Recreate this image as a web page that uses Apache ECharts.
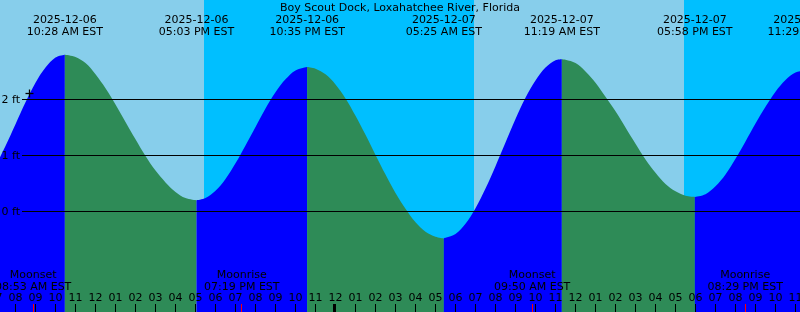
<!DOCTYPE html>
<html><head><meta charset="utf-8">
<script src="https://cdn.jsdelivr.net/npm/echarts@6/dist/echarts.min.js"></script>
<style>html,body{margin:0;padding:0;background:#00BFFF}#c{width:800px;height:312px}</style>
</head><body><div id="c"></div>
<script>
const chartTitle = 'Boy Scout Dock, Loxahatchee River, Florida';
// time in hours since 2025-12-06 00:00 EST, height in ft
const tideTimes = [7.0,7.5,8.0,8.5,9.0,9.5,10.0,10.467,11.0,11.5,12.0,12.5,13.0,13.5,14.0,14.5,15.0,15.5,16.0,16.5,17.05,
  17.5,18.0,18.5,19.0,19.5,20.0,20.5,21.0,21.5,22.0,22.583,23.0,23.5,24.0,24.5,25.0,25.5,26.0,26.5,27.0,27.5,28.0,28.5,29.0,29.417,
  29.5,30.0,30.5,31.0,31.5,32.0,32.5,33.0,33.5,34.0,34.5,35.0,35.317,35.5,36.0,36.5,37.0,37.5,38.0,38.5,39.0,39.5,40.0,40.5,41.0,41.5,41.967,
  42.5,43.0,43.5,44.0,44.5,45.0,45.5,46.0,46.5,47.0,47.483];
const tideHeights = [0.81,1.17,1.56,1.95,2.30,2.57,2.75,2.80,2.76,2.65,2.45,2.20,1.91,1.60,1.29,0.99,0.73,0.52,0.35,0.24,0.20,
  0.24,0.37,0.58,0.86,1.18,1.51,1.84,2.13,2.36,2.52,2.58,2.55,2.45,2.27,2.02,1.71,1.37,1.01,0.66,0.33,0.05,-0.19,-0.36,-0.45,-0.48,
  -0.47,-0.40,-0.22,0.06,0.41,0.81,1.23,1.65,2.03,2.34,2.57,2.70,2.72,2.71,2.65,2.50,2.30,2.05,1.79,1.50,1.21,0.93,0.69,0.49,0.36,0.28,0.26,
  0.31,0.45,0.66,0.94,1.25,1.57,1.87,2.14,2.35,2.48,2.52];
const extremeTimes = [10.467,17.05,22.583,29.417,35.317,41.967,47.483];
const extremeDates = ['2025-12-06','2025-12-06','2025-12-06','2025-12-07','2025-12-07','2025-12-07','2025-12-07'];
const extremeClock = ['10:28 AM EST','05:03 PM EST','10:35 PM EST','05:25 AM EST','11:19 AM EST','05:58 PM EST','11:29 PM EST'];
const daylight = [[6.0,17.425],[30.925,41.425]];
const moonTimes = [8.883,19.317,33.833,44.483];
const moonEvents = ['Moonset','Moonrise','Moonset','Moonrise'];
const moonClock = ['08:53 AM EST','07:19 PM EST','09:50 AM EST','08:29 PM EST'];
const midnightTimes = [24];
const yTicks = [0,1,2];
const yTickLabels = ['0 ft','1 ft','2 ft'];
const nowPoint = [8.7,2.11];

const FONT = '"DejaVu Sans", sans-serif';
const YMIN = -1.7946, YMAX = 3.7768;
const RISE = '#0000FF', FALL = '#2E8B57', DAY = '#87CEEB', NIGHT = '#00BFFF';

const chart = echarts.init(document.getElementById('c'), null, {renderer:'canvas'});

const pts = tideTimes.map((t,k)=>[t,tideHeights[k]]);
const tFirst = tideTimes[0], tLast = tideTimes[tideTimes.length-1];
const bounds = [tFirst, ...extremeTimes.filter(t=>t>tFirst+1e-9 && t<tLast-1e-9), tLast];
const segSeries = [];
for (let i=0;i<bounds.length-1;i++){
  const seg = pts.filter(p=>p[0]>=bounds[i]-1e-9 && p[0]<=bounds[i+1]+1e-9);
  const rising = seg[seg.length-1][1] > seg[0][1];
  segSeries.push({type:'line', data:seg, symbol:'none', smooth:0.35,
    lineStyle:{width:0}, areaStyle:{color: rising?RISE:FALL, opacity:1, origin:'start'},
    z:2, silent:true, animation:false});
}
const crisp = v => Math.floor(v)+0.5;

const option = {
  animation:false,
  backgroundColor: NIGHT,
  textStyle:{fontFamily:FONT},
  title:{text:chartTitle, left:'center', top:2.5, padding:0,
    textStyle:{fontSize:11, fontWeight:'normal', color:'#000', fontFamily:FONT}},
  grid:{left:-4.5, right:-15.5, top:0, bottom:0, containLabel:false, outerBoundsMode:'none'},
  xAxis:{type:'value', min:7, max:48, interval:1, z:10, position:'bottom',
    axisLine:{show:false, onZero:false}, splitLine:{show:false},
    axisTick:{inside:true, length:8, lineStyle:{color:'#000', width:1}},
    axisLabel:{inside:true, margin:8.5, color:'#000', fontSize:11, fontFamily:FONT, hideOverlap:false,
      formatter:v=>{ if (Math.abs(v-Math.round(v))>1e-6) return ''; let h=((Math.round(v)%12)+12)%12; if(h===0)h=12; return (h<10?'0':'')+h; }}},
  yAxis:{type:'value', min:YMIN, max:YMAX, show:false},
  series:[
    {type:'custom', z:0, silent:true, data:daylight,
      renderItem:(params,api)=>{ const a=api.coord([api.value(0),YMAX]); const b=api.coord([api.value(1),YMIN]);
        return {type:'rect', shape:{x:a[0], y:a[1], width:b[0]-a[0], height:b[1]-a[1]}, style:{fill:DAY}}; }},
    ...segSeries,
    {type:'custom', z:5, silent:true, data:yTicks.map((v,i)=>[tFirst,v,i]),
      renderItem:(params,api)=>{ const y=crisp(api.coord([api.value(0),api.value(1)])[1]); const i=api.value(2);
        return {type:'group', children:[
          {type:'line', shape:{x1:22,y1:y,x2:800,y2:y}, style:{stroke:'#000', lineWidth:1}},
          {type:'text', x:20, y:y+0.5, style:{text:yTickLabels[i], fill:'#000', font:'11px '+FONT, align:'right', verticalAlign:'middle'}}
        ]}; }},
    {type:'custom', z:5, silent:true, data:[nowPoint],
      renderItem:(params,api)=>{ const p=api.coord([api.value(0),api.value(1)]); const x=crisp(p[0]), y=crisp(p[1]);
        return {type:'group', children:[
          {type:'line', shape:{x1:x-4,y1:y,x2:x+4,y2:y}, style:{stroke:'#000', lineWidth:1.3}},
          {type:'line', shape:{x1:x,y1:y-4,x2:x,y2:y+4}, style:{stroke:'#000', lineWidth:1.3}}
        ]}; }},
    {type:'custom', z:6, silent:true, data:extremeTimes.map((t,i)=>[t,0,i]),
      renderItem:(params,api)=>{ const x=api.coord([api.value(0),0])[0]; const i=api.value(2);
        return {type:'text', x:x, y:26.3, style:{text:extremeDates[i]+'\n'+extremeClock[i], fill:'#000', font:'11px '+FONT, align:'center', verticalAlign:'middle', lineHeight:12}}; }},
    {type:'custom', z:6, silent:true, data:moonTimes.map((t,i)=>[t,0,i]),
      renderItem:(params,api)=>{ const x=api.coord([api.value(0),0])[0]; const i=api.value(2); const yb=api.coord([api.value(0),YMIN])[1];
        return {type:'group', children:[
          {type:'text', x:x, y:yb-31.2, style:{text:moonEvents[i]+'\n'+moonClock[i], fill:'#000', font:'11px '+FONT, align:'center', verticalAlign:'middle', lineHeight:12}},
          {type:'rect', shape:{x:Math.floor(x), y:yb-8, width:1, height:8}, style:{fill:'#FF0000'}}
        ]}; }},
    {type:'custom', z:11, silent:true, data:midnightTimes.map(t=>[t,0]),
      renderItem:(params,api)=>{ const x=api.coord([api.value(0),0])[0]; const yb=api.coord([api.value(0),YMIN])[1];
        return {type:'rect', shape:{x:Math.floor(x)-2, y:yb-8, width:3, height:8}, style:{fill:'#000'}}; }}
  ]
};
chart.setOption(option);
</script></body></html>
